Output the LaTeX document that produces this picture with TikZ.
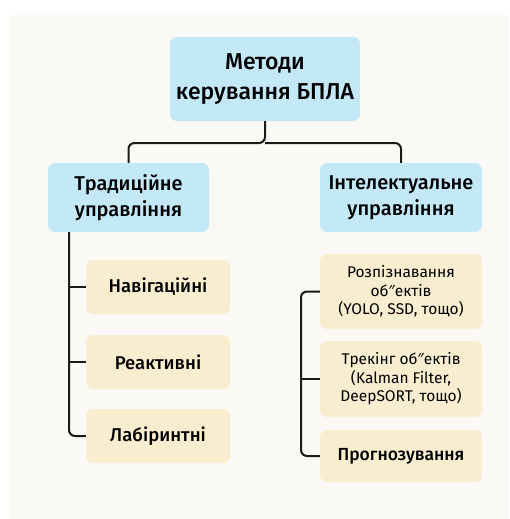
\documentclass[tikz,border=0pt]{standalone}
\usepackage{fontspec}
\setmainfont{Noto Sans}
\newfontfamily\medfont{Fira Sans Medium}
\newfontfamily\smfont{Fira Sans}
\newfontfamily\notofont{Noto Sans}
\newcommand{\dprime}{{\notofont ″}}
\definecolor{panelbg}{HTML}{FAF9F6}
\definecolor{bluebox}{HTML}{C3E8F7}
\definecolor{beigebox}{HTML}{F8EDCF}
\definecolor{linecol}{HTML}{1A1A1A}
\tikzset{
  bluenode/.style={fill=bluebox, rounded corners=7pt, align=center, inner sep=0pt, text=black},
  beigenode/.style={fill=beigebox, rounded corners=7pt, align=center, inner sep=0pt, text=black},
  conn/.style={draw=linecol, line width=2pt, rounded corners=6pt},
}
\begin{document}
\begin{tikzpicture}[x=1pt,y=-1pt]
\useasboundingbox (0,0) rectangle (509,519);
\fill[white] (0,0) rectangle (509,519);
\fill[panelbg] (8.5,15) rectangle (509,519);

% top
\node[bluenode, minimum width=190pt, minimum height=84pt, font=\medfont\fontsize{23}{30}\selectfont] (top) at (265,79) {Методи\\керування БПЛА};
% level 1
\node[bluenode, minimum width=161pt, minimum height=69pt, font=\medfont\fontsize{20}{26}\selectfont] (trad) at (128.5,197.5) {Традиційне\\управління};
\node[bluenode, minimum width=162pt, minimum height=69pt, font=\medfont\fontsize{20}{26}\selectfont] (intel) at (401,197.5) {Інтелектуальне\\управління};

% left children
\node[beigenode, minimum width=144pt, minimum height=54pt, font=\medfont\fontsize{18.5}{20}\selectfont] (nav) at (158,287) {Навігаційні};
\node[beigenode, minimum width=144pt, minimum height=54pt, font=\medfont\fontsize{18.5}{20}\selectfont] (reak) at (158,362) {Реактивні};
\node[beigenode, minimum width=144pt, minimum height=54pt, font=\medfont\fontsize{18.5}{20}\selectfont] (lab) at (158,436) {Лабіринтні};

% right children
\node[beigenode, minimum width=162pt, minimum height=75pt, font=\smfont\fontsize{15.5}{18.5}\selectfont] (roz) at (401,291.5) {Розпізнавання\\об\dprime ектів\\(YOLO, SSD, тощо)};
\node[beigenode, minimum width=162pt, minimum height=76pt, font=\smfont\fontsize{15.5}{18.5}\selectfont] (trek) at (401,379) {Трекінг об\dprime ектів\\(Kalman Filter,\\DeepSORT, тощо)};
\node[beigenode, minimum width=162pt, minimum height=52pt, font=\medfont\fontsize{17.5}{20}\selectfont] (prog) at (401,456) {Прогнозування};

% connectors top
\coordinate (j) at (265,143);
\draw[conn] (top.south) -- (j) -| (trad.north);
\draw[conn] (j) -| (intel.north);

% left tree
\coordinate (lx) at (69,0);
\draw[conn] (trad.south -| lx) |- (lab.west);
\draw[conn] (nav.west -| lx) -- (nav.west);
\draw[conn] (reak.west -| lx) -- (reak.west);

% right bracket
\coordinate (rx) at (301,0);
\draw[conn] (roz.west) -| (rx |- trek.west) |- (prog.west);
\draw[conn] (trek.west -| rx) -- (trek.west);
\end{tikzpicture}
\end{document}
